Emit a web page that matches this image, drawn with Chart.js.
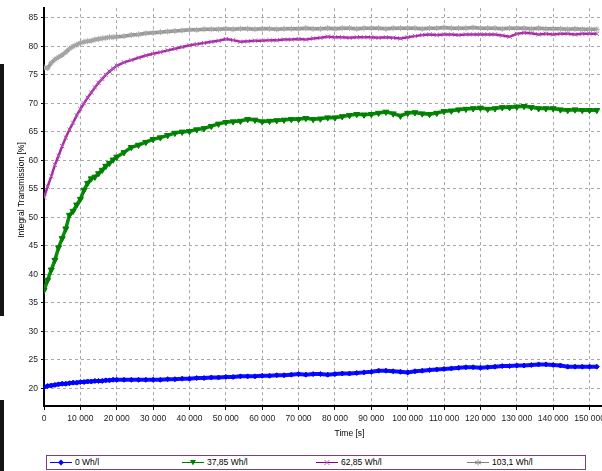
<!DOCTYPE html>
<html>
<head>
<meta charset="utf-8">
<script src="https://cdn.jsdelivr.net/npm/chart.js@4"></script>
<style>
  html, body { margin:0; padding:0; background:#fff; }
  #wrap { position:relative; width:602px; height:471px; overflow:hidden; background:#fff;
          font-family:'Liberation Sans',Arial,sans-serif; }
  #chart { position:absolute; left:0; top:0; }
  .bar { position:absolute; left:0; width:4px; background:#141414; }
  #legend { position:absolute; left:46px; top:455px; width:538px; height:13px; border:1px solid #7b3f7b; }
  .item { position:absolute; top:0; height:13px; font-size:8.5px; line-height:13px; color:#000; white-space:nowrap; }
  .item svg { vertical-align:top; margin-right:3px; }
</style>
</head>
<body>
<div id="wrap">
  <canvas id="chart" width="660" height="445"></canvas>
  <div class="bar" style="top:64px;height:252px"></div>
  <div class="bar" style="top:400px;height:71px"></div>
  <div id="legend"></div>
</div>
<script>
// zeit in sekunden
const timeSec = [
  0, 1000, 2000, 3000, 4000, 5000, 6000, 7000, 8000, 9000, 10000,
  11000, 12000, 13000, 14000, 15000, 16000, 17000, 18000, 19000, 20000,
  22000, 24000, 26000, 28000, 30000, 32000, 34000, 36000, 38000, 40000, 42000,
  44000, 46000, 48000, 50000, 52000, 54000, 56000, 58000, 60000, 62000, 64000,
  66000, 68000, 70000, 72000, 74000, 76000, 78000, 80000, 82000, 84000, 86000,
  88000, 90000, 92000, 94000, 96000, 98000, 100000, 102000, 104000, 106000, 108000,
  110000, 112000, 114000, 116000, 118000, 120000, 122000, 124000, 126000, 128000, 130000,
  132000, 134000, 136000, 138000, 140000, 142000, 144000, 146000, 148000, 150000, 152000
];

const wh0 = [
  20.2, 20.4, 20.5, 20.6, 20.7, 20.8, 20.8, 20.9, 21.0, 21.0, 21.1,
  21.1, 21.2, 21.2, 21.3, 21.3, 21.3, 21.4, 21.4, 21.5, 21.5,
  21.5, 21.5, 21.5, 21.5, 21.5, 21.5, 21.6, 21.6, 21.7, 21.7, 21.8,
  21.8, 21.9, 21.9, 22.0, 22.0, 22.1, 22.1, 22.1, 22.2, 22.2, 22.3,
  22.3, 22.4, 22.5, 22.4, 22.5, 22.5, 22.4, 22.5, 22.6, 22.6, 22.7,
  22.8, 22.9, 23.1, 23.1, 23.0, 22.9, 22.8, 23.0, 23.1, 23.2, 23.3,
  23.4, 23.5, 23.6, 23.7, 23.7, 23.6, 23.7, 23.8, 23.9, 23.9, 24.0,
  24.0, 24.1, 24.2, 24.2, 24.1, 24.0, 23.8, 23.8, 23.8, 23.8, 23.8
];

const wh3785 = [
  37.2, 39.0, 40.8, 42.5, 44.7, 46.3, 48.0, 50.4, 51.1, 52.2, 53.2,
  54.8, 56.0, 56.8, 57.1, 57.7, 58.3, 59.0, 59.5, 60.1, 60.6,
  61.4, 62.3, 62.7, 63.2, 63.7, 64.0, 64.4, 64.8, 65.0, 65.1, 65.4,
  65.6, 66.0, 66.4, 66.7, 66.8, 66.9, 67.2, 67.1, 66.8, 66.9, 67.0,
  67.1, 67.2, 67.2, 67.4, 67.2, 67.3, 67.5, 67.5, 67.7, 67.9, 68.1,
  68.0, 68.1, 68.3, 68.5, 68.2, 67.8, 68.3, 68.4, 68.2, 68.1, 68.3,
  68.6, 68.7, 68.9, 69.0, 69.1, 69.2, 69.0, 69.1, 69.3, 69.3, 69.4,
  69.5, 69.3, 69.1, 69.1, 69.1, 68.9, 68.8, 68.9, 68.8, 68.8, 68.8
];

const wh6285 = [
  53.5, 55.4, 57.2, 59.2, 60.8, 62.5, 64.0, 65.4, 66.6, 67.9, 69.0,
  70.0, 71.0, 71.9, 72.8, 73.6, 74.3, 75.0, 75.6, 76.1, 76.6,
  77.2, 77.6, 78.0, 78.4, 78.7, 79.0, 79.3, 79.6, 79.9, 80.2, 80.4,
  80.6, 80.8, 81.0, 81.3, 81.1, 80.8, 80.9, 81.0, 81.0, 81.1, 81.1,
  81.2, 81.2, 81.3, 81.2, 81.4, 81.5, 81.7, 81.6, 81.6, 81.5, 81.6,
  81.6, 81.6, 81.5, 81.6, 81.5, 81.4, 81.6, 81.8, 82.0, 82.1, 82.0,
  82.1, 82.1, 82.0, 82.1, 82.1, 82.1, 82.1, 82.1, 81.9, 81.7, 82.2,
  82.4, 82.3, 82.1, 82.2, 82.1, 82.2, 82.2, 82.1, 82.2, 82.2, 82.2
];

const wh1031 = [
  76.3, 76.2, 77.1, 77.7, 78.1, 78.5, 79.0, 79.6, 80.0, 80.3, 80.6,
  80.8, 80.9, 81.0, 81.2, 81.3, 81.4, 81.5, 81.6, 81.6, 81.7,
  81.8, 82.0, 82.1, 82.3, 82.4, 82.5, 82.6, 82.7, 82.8, 82.9, 82.9,
  83.0, 83.0, 83.0, 83.1, 83.0, 83.1, 83.1, 83.0, 83.1, 83.1, 83.0,
  83.1, 83.1, 83.1, 83.2, 83.1, 83.1, 83.2, 83.1, 83.2, 83.2, 83.1,
  83.2, 83.2, 83.2, 83.1, 83.2, 83.2, 83.2, 83.2, 83.1, 83.2, 83.2,
  83.3, 83.2, 83.2, 83.2, 83.3, 83.2, 83.2, 83.2, 83.1, 83.2, 83.2,
  83.2, 83.1, 83.2, 83.1, 83.1, 83.1, 83.0, 83.1, 83.0, 83.0, 83.0
];

const seriesLabels = ['0 Wh/l', '37,85 Wh/l', '62,85 Wh/l', '103,1 Wh/l'];
const xTicks = [0, 10000, 20000, 30000, 40000, 50000, 60000, 70000, 80000, 90000,
                100000, 110000, 120000, 130000, 140000, 150000];
const yTicks = [20, 25, 30, 35, 40, 45, 50, 55, 60, 65, 70, 75, 80, 85];
const yTitle = 'Integral Transmission [%]';

const fam = "'Liberation Sans',Arial,sans-serif";

// stil pro serie
const styles = [
  {line:'#1010ff', mark:'#0000ff', w:4, point:'rectRot', r:2.5, rot:0, svg:'<path d="M11 3.5 L14 6.5 L11 9.5 L8 6.5 Z" fill="#0000ff"/>'},
  {line:'#0a8a0a', mark:'#008000', w:3.5, point:'triangle', r:3.5, rot:180, svg:'<path d="M8 4 L14 4 L11 9.5 Z" fill="#008000"/>'},
  {line:'#a030a0', mark:'#c050c0', w:2.5, point:'crossRot', r:3, rot:0, svg:'<path d="M8.5 4 L13.5 9 M13.5 4 L8.5 9" stroke="#c050c0" stroke-width="1"/>'},
  {line:'#959595', mark:'#a8a8a8', w:3.5, point:'star', r:3, rot:0, svg:'<path d="M11 3.5 L11 9.5 M8 5 L14 8 M14 5 L8 8" stroke="#909090" stroke-width="1"/>'}
];
const legendLine = ['#0000ff', '#008000', '#800080', '#808080'];
const values = [wh0, wh3785, wh6285, wh1031];

const toPoints = arr => timeSec.map((t, i) => ({x: t, y: arr[i]}));

function fmtTime(v) {
  if (v === 0) return '0';
  return Math.floor(v / 1000) + ' 000';
}

const datasets = values.map((arr, i) => ({
  label: seriesLabels[i],
  data: toPoints(arr),
  borderColor: styles[i].line,
  backgroundColor: styles[i].mark,
  borderWidth: styles[i].w,
  pointStyle: styles[i].point,
  pointRotation: styles[i].rot,
  pointRadius: styles[i].r,
  pointBorderColor: styles[i].mark,
  pointBackgroundColor: styles[i].mark,
  pointBorderWidth: 1,
  tension: 0
}));

// y-titel etwas oberhalb der mitte, wie im original
const yTitlePlugin = {
  id: 'yTitle',
  afterDraw(chart) {
    const c = chart.ctx;
    c.save();
    c.translate(22, 190);
    c.rotate(-Math.PI / 2);
    c.font = '8.5px ' + fam;
    c.fillStyle = '#000';
    c.textAlign = 'center';
    c.textBaseline = 'middle';
    c.fillText(yTitle, 0, 0);
    c.restore();
  }
};

new Chart(document.getElementById('chart').getContext('2d'), {
  type: 'line',
  data: { datasets },
  plugins: [yTitlePlugin],
  options: {
    responsive: false,
    animation: false,
    layout: { padding: 0 },
    plugins: { legend: { display: false }, tooltip: { enabled: false } },
    scales: {
      x: {
        type: 'linear',
        min: 0, max: 168000,
        afterBuildTicks: s => { s.ticks = xTicks.map(v => ({value: v})); },
        afterFit: s => { s.height = 39; },
        ticks: { font: {family: fam, size: 8.5}, color: '#222', padding: 4, maxRotation: 0, autoSkip: false, callback: v => fmtTime(v) },
        grid: { color: '#a8a8a8', tickColor: '#000', tickLength: 4 },
        border: { color: '#000', width: 2, dash: [3, 3] },
        title: { display: true, text: 'Time [s]', font: {family: fam, size: 8.5}, color: '#000', padding: {top: 2, bottom: 6} }
      },
      y: {
        min: 16.9, max: 86.72,
        afterBuildTicks: s => { s.ticks = yTicks.map(v => ({value: v})); },
        afterFit: s => { s.width = 44; },
        ticks: { font: {family: fam, size: 8.5}, color: '#222', padding: 3 },
        grid: { color: '#a8a8a8', tickColor: '#000', tickLength: 3 },
        border: { color: '#000', width: 2, dash: [3, 3] },
        title: { display: false }
      }
    }
  }
});

// legende
const legendPos = [3, 135, 269, 420];
const legend = document.getElementById('legend');
seriesLabels.forEach((lab, i) => {
  const d = document.createElement('div');
  d.className = 'item';
  d.style.left = legendPos[i] + 'px';
  d.innerHTML = '<svg width="22" height="13"><line x1="0" y1="6.5" x2="22" y2="6.5" stroke="' + legendLine[i] + '" stroke-width="1"/>' + styles[i].svg + '</svg>' + lab;
  legend.appendChild(d);
});
</script>
</body>
</html>
